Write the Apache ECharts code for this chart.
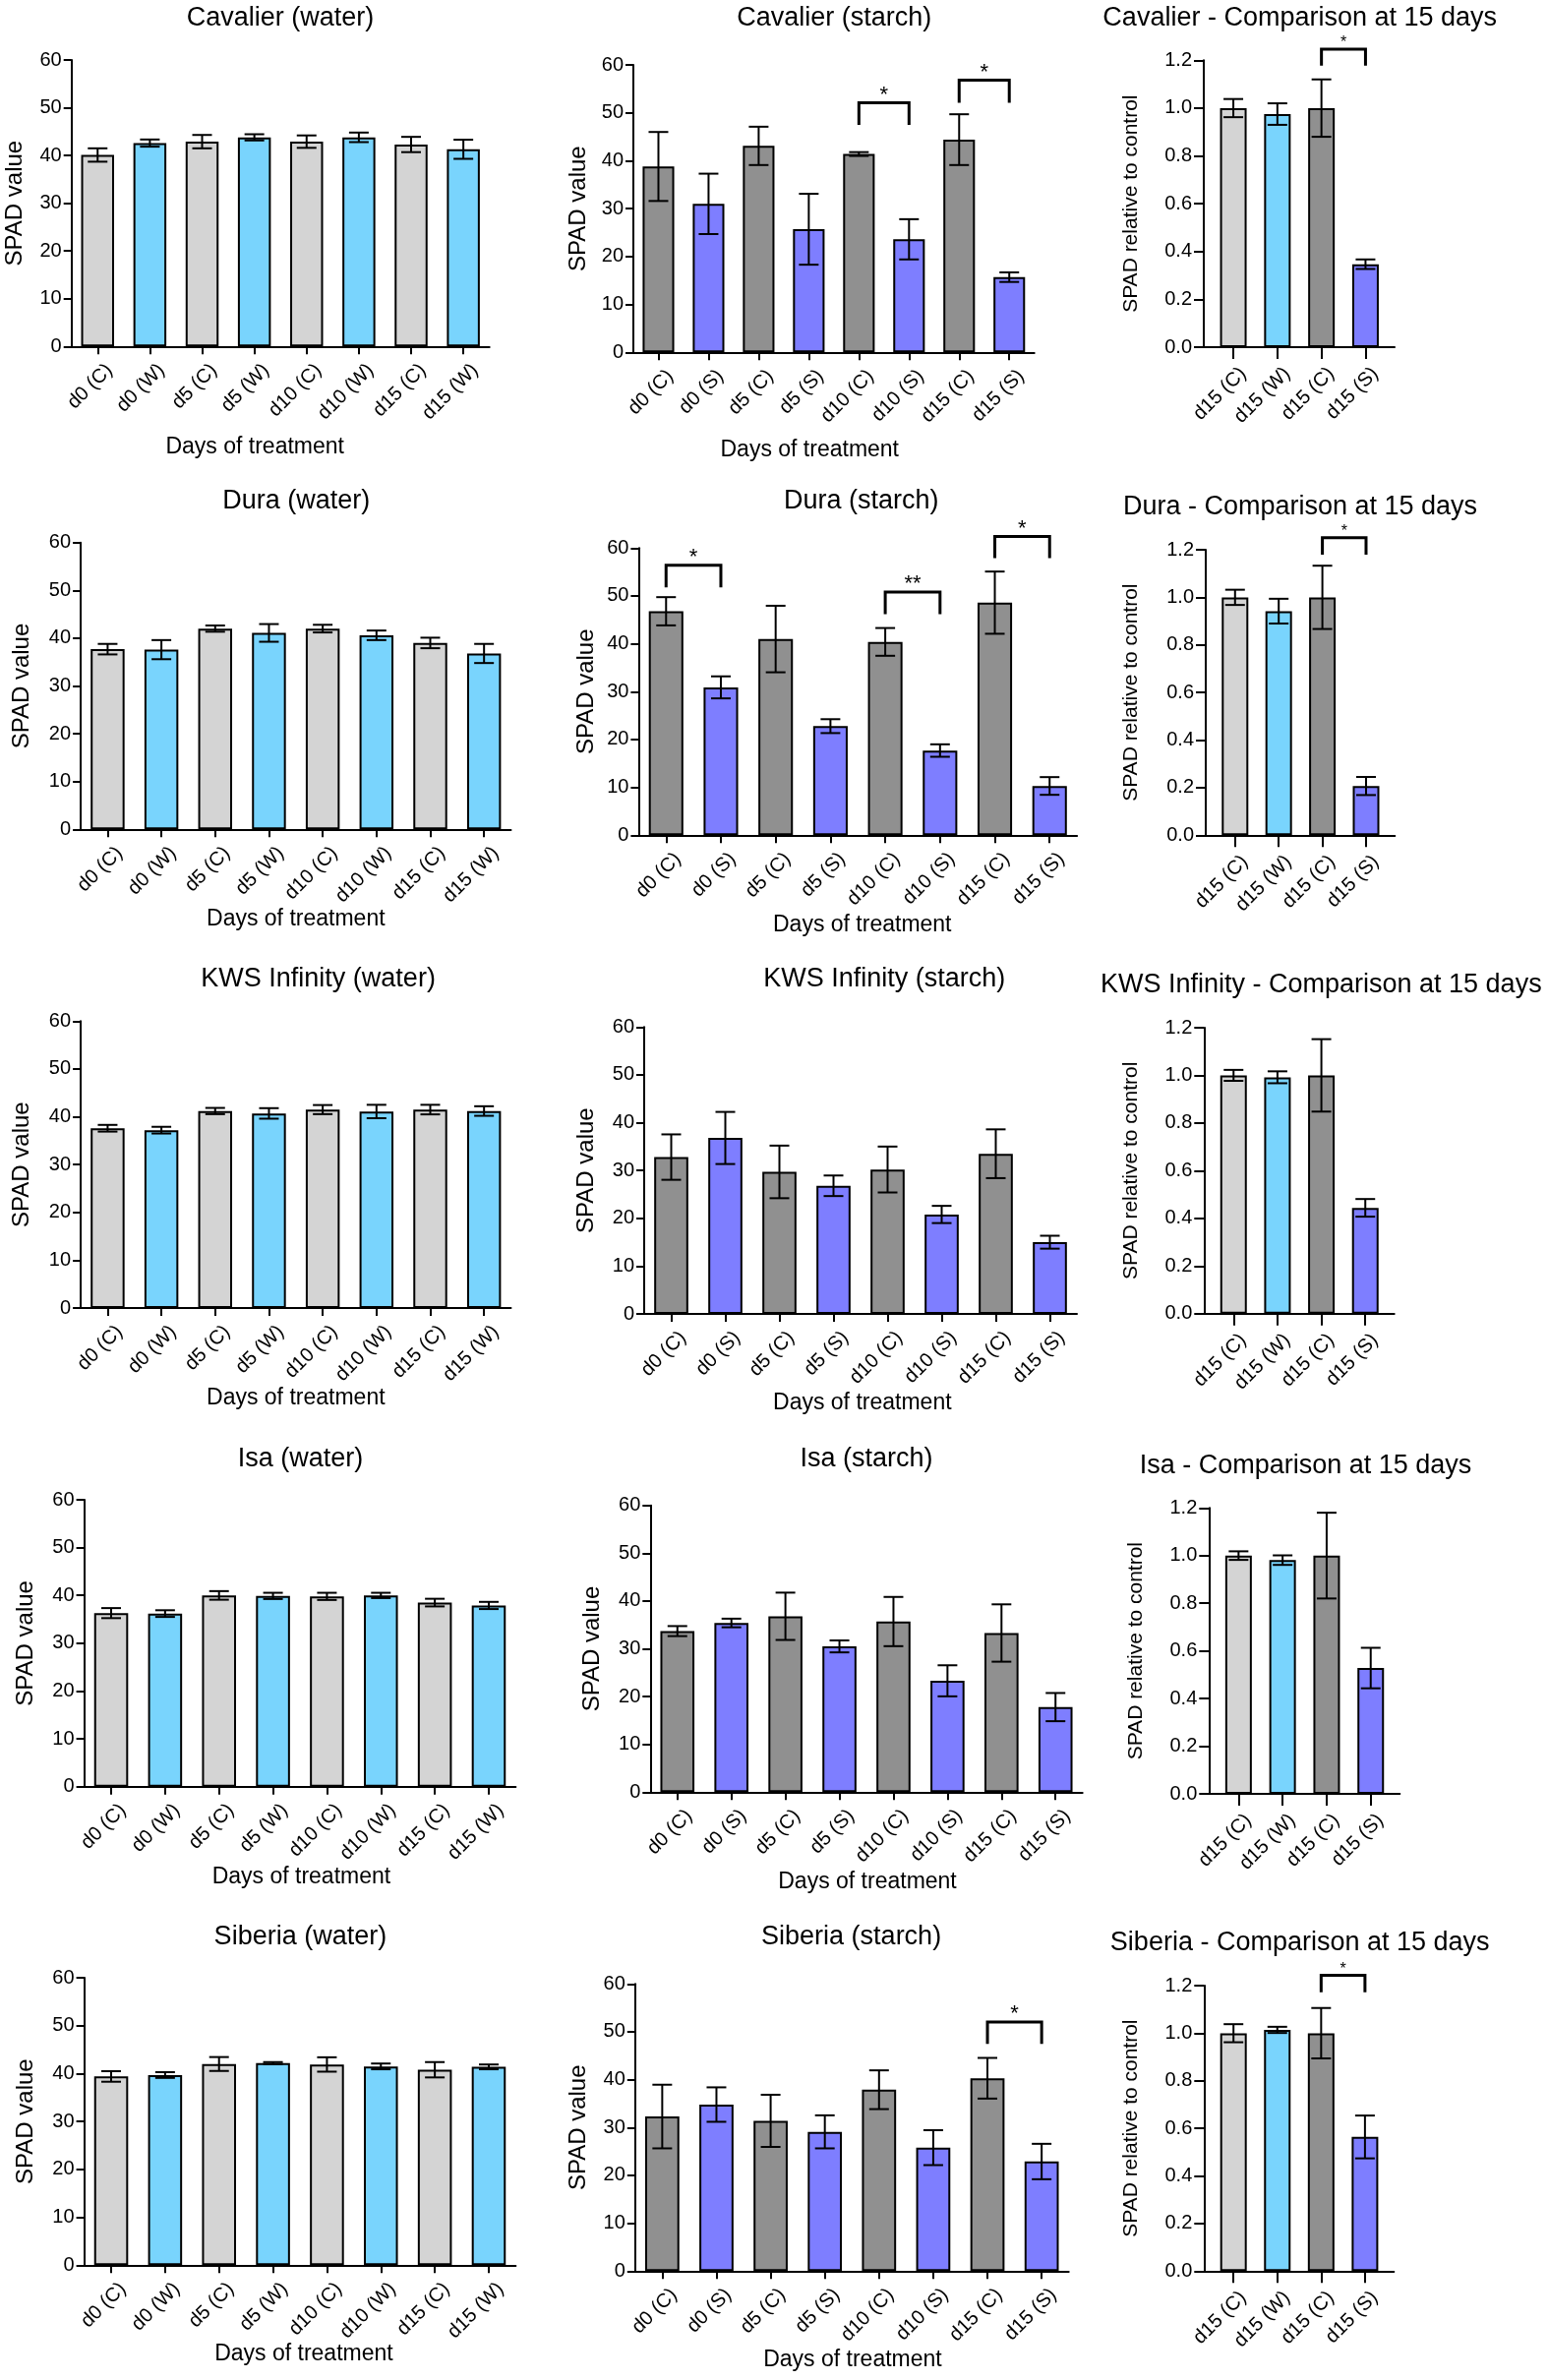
<!DOCTYPE html>
<html><head><meta charset="utf-8">
<script src="https://cdn.jsdelivr.net/npm/echarts@6/dist/echarts.min.js"></script>
<style>html,body{margin:0;padding:0;background:#fff}#chart{width:1574px;height:2420px}</style>
</head><body><div id="chart"></div>
<script>
// ---------------- DATA ----------------
const cultivars = ['Cavalier', 'Dura', 'KWS Infinity', 'Isa', 'Siberia'];
const waterCategories = ['d0 (C)', 'd0 (W)', 'd5 (C)', 'd5 (W)', 'd10 (C)', 'd10 (W)', 'd15 (C)', 'd15 (W)'];
const starchCategories = ['d0 (C)', 'd0 (S)', 'd5 (C)', 'd5 (S)', 'd10 (C)', 'd10 (S)', 'd15 (C)', 'd15 (S)'];
const comparisonCategories = ['d15 (C)', 'd15 (W)', 'd15 (C)', 'd15 (S)'];
const spadTicks = [0, 10, 20, 30, 40, 50, 60];
const relativeTicks = [0, 0.2, 0.4, 0.6, 0.8, 1.0, 1.2];

const cavalierWaterMean = [40.1, 42.6, 42.9, 43.8, 42.9, 43.8, 42.3, 41.3];
const cavalierWaterErr = [1.4, 0.75, 1.4, 0.65, 1.3, 1.0, 1.6, 2.0];
const cavalierStarchMean = [38.8, 31.0, 43.1, 25.7, 41.4, 23.6, 44.4, 15.7];
const cavalierStarchErr = [7.2, 6.3, 4.0, 7.4, 0.4, 4.2, 5.3, 1.0];
const cavalierCompMean = [1.0, 0.975, 1.0, 0.347];
const cavalierCompErr = [0.038, 0.045, 0.12, 0.02];
const cavalierStarchSig = [[4, 5, 47.5, 52.1, '*'], [6, 7, 52.1, 56.8, '*']];
const cavalierCompSig = [[2, 3, 1.178, 1.247, '*']];

const duraWaterMean = [37.7, 37.6, 42.0, 41.1, 42.0, 40.6, 39.0, 36.8];
const duraWaterErr = [1.1, 2.0, 0.65, 1.85, 0.8, 1.0, 1.1, 2.0];
const duraStarchMean = [46.8, 30.9, 41.0, 22.8, 40.4, 17.7, 48.6, 10.3];
const duraStarchErr = [2.95, 2.3, 6.95, 1.45, 2.9, 1.3, 6.5, 1.85];
const duraCompMean = [1.0, 0.942, 1.0, 0.207];
const duraCompErr = [0.032, 0.052, 0.133, 0.038];
const duraStarchSig = [[0, 1, 51.8, 56.4, '*'], [4, 5, 46.2, 50.8, '**'], [6, 7, 57.9, 62.4, '*']];
const duraCompSig = [[2, 3, 1.179, 1.251, '*']];

const kwsWaterMean = [37.6, 37.2, 41.2, 40.7, 41.5, 41.1, 41.5, 41.2];
const kwsWaterErr = [0.7, 0.7, 0.65, 1.1, 0.95, 1.4, 1.0, 1.0];
const kwsStarchMean = [32.8, 36.8, 29.7, 26.8, 30.2, 20.8, 33.5, 15.0];
const kwsStarchErr = [4.75, 5.45, 5.5, 2.15, 4.8, 1.8, 5.1, 1.35];
const kwsCompMean = [1.0, 0.992, 1.0, 0.444];
const kwsCompErr = [0.023, 0.025, 0.152, 0.037];
const kwsStarchSig = [];
const kwsCompSig = [];

const isaWaterMean = [36.3, 36.2, 40.0, 39.9, 39.8, 40.0, 38.5, 37.9];
const isaWaterErr = [1.05, 0.7, 0.9, 0.65, 0.75, 0.55, 0.8, 0.75];
const isaStarchMean = [33.7, 35.4, 36.8, 30.5, 35.7, 23.3, 33.3, 17.8];
const isaStarchErr = [1.05, 0.9, 4.95, 1.25, 5.15, 3.25, 6.0, 2.95];
const isaCompMean = [1.0, 0.981, 1.0, 0.528];
const isaCompErr = [0.018, 0.02, 0.18, 0.085];
const isaStarchSig = [];
const isaCompSig = [];

const siberiaWaterMean = [39.4, 39.7, 42.0, 42.2, 41.9, 41.5, 40.8, 41.4];
const siberiaWaterErr = [1.1, 0.6, 1.45, 0.2, 1.5, 0.6, 1.6, 0.5];
const siberiaStarchMean = [32.3, 34.8, 31.4, 29.1, 37.9, 25.8, 40.3, 22.9];
const siberiaStarchErr = [6.65, 3.6, 5.45, 3.45, 4.05, 3.65, 4.25, 3.7];
const siberiaCompMean = [1.0, 1.014, 1.0, 0.564];
const siberiaCompErr = [0.038, 0.013, 0.106, 0.09];
const siberiaStarchSig = [[6, 7, 47.5, 52.05, '*']];
const siberiaCompSig = [[2, 3, 1.172, 1.243, '*']];

// ---------------- LAYOUT (pixels) ----------------
// [left, top, right, bottom] of each plot area: water, starch, comparison
const gridBoxes = [
  [[72.7, 61, 497.7, 352.3], [644, 66, 1051.7, 358.3], [1224, 61.3, 1418, 353]],
  [[82.1, 551.7, 519.5, 843.3], [649.4, 557.3, 1095.1, 849.3], [1226, 559, 1418.3, 849.3]],
  [[82.1, 1038.3, 519.5, 1330], [655, 1044.3, 1095, 1336], [1224.3, 1045, 1417.7, 1335.7]],
  [[85.6, 1525, 524.4, 1816.7], [661.3, 1530.7, 1100.7, 1822.3], [1229.3, 1533.3, 1423.3, 1824]],
  [[85.6, 2011, 524.4, 2303.3], [645.8, 2017.3, 1086.7, 2309.3], [1224.3, 2019, 1417.3, 2309.3]]
];
const titleAnchors = [
  [[285, 17.5], [848.3, 17.5], [1321.7, 17.5]],
  [[301.2, 507.8], [875.8, 507.8], [1322, 514]],
  [[323.6, 994.5], [899.3, 994.5], [1343.3, 1000.3]],
  [[305.4, 1481.7], [881, 1481.7], [1327.5, 1489.2]],
  [[305.4, 1968.3], [865.6, 1968.3], [1321.7, 1974.2]]
];
const yNameGaps = [[45.4, 44, 63], [47.3, 40.7, 65.5], [47.3, 46.3, 63.3], [47.3, 47.3, 63.8], [47.3, 45.8, 63.8]];
const xNameGaps = [[91, 88], [80, 80], [80, 79], [80, 79.5], [79, 78.5]];
const xNameShift = [[-26, -24.6], [0, 4.5], [0, 1.8], [1.4, 1], [3.9, 0.7]];

// ---------------- STYLE ----------------
const FONT = '"Liberation Sans", Arial, Helvetica, sans-serif';
const LIGHT_GREY = '#d4d4d4', LIGHT_BLUE = '#79d4fd', DARK_GREY = '#909090', PURPLE = '#7e7eff';
const compColors = [LIGHT_GREY, LIGHT_BLUE, DARK_GREY, PURPLE];

const waterMeans = [cavalierWaterMean, duraWaterMean, kwsWaterMean, isaWaterMean, siberiaWaterMean];
const waterErrs = [cavalierWaterErr, duraWaterErr, kwsWaterErr, isaWaterErr, siberiaWaterErr];
const starchMeans = [cavalierStarchMean, duraStarchMean, kwsStarchMean, isaStarchMean, siberiaStarchMean];
const starchErrs = [cavalierStarchErr, duraStarchErr, kwsStarchErr, isaStarchErr, siberiaStarchErr];
const compMeans = [cavalierCompMean, duraCompMean, kwsCompMean, isaCompMean, siberiaCompMean];
const compErrs = [cavalierCompErr, duraCompErr, kwsCompErr, isaCompErr, siberiaCompErr];
const starchSigs = [cavalierStarchSig, duraStarchSig, kwsStarchSig, isaStarchSig, siberiaStarchSig];
const compSigs = [cavalierCompSig, duraCompSig, kwsCompSig, isaCompSig, siberiaCompSig];

const option = {
  backgroundColor: '#ffffff',
  animation: false,
  title: [], grid: [], xAxis: [], yAxis: [], series: []
};

function errorBarSeries(idx, data, capW) {
  return {
    type: 'custom', xAxisIndex: idx, yAxisIndex: idx, z: 5, silent: true, clip: false,
    encode: { x: 0, y: [1, 2] },
    data: data,
    renderItem: function (params, api) {
      const x = api.value(0);
      const lo = api.coord([x, api.value(1)]);
      const hi = api.coord([x, api.value(2)]);
      const h = capW / 2;
      const st = { stroke: '#000', lineWidth: 2 };
      return { type: 'group', children: [
        { type: 'line', shape: { x1: hi[0], y1: hi[1], x2: lo[0], y2: lo[1] }, style: st },
        { type: 'line', shape: { x1: hi[0] - h, y1: hi[1], x2: hi[0] + h, y2: hi[1] }, style: st },
        { type: 'line', shape: { x1: lo[0] - h, y1: lo[1], x2: lo[0] + h, y2: lo[1] }, style: st }
      ] };
    }
  };
}

function sigSeries(idx, sigs, fontSize, starGap) {
  return {
    type: 'custom', xAxisIndex: idx, yAxisIndex: idx, z: 6, silent: true, clip: false,
    encode: { x: [0, 1], y: [2, 3] },
    data: sigs.map(s => [s[0], s[1], s[2], s[3]]),
    renderItem: function (params, api) {
      const a = api.coord([api.value(0), api.value(2)]);
      const b = api.coord([api.value(0), api.value(3)]);
      const c = api.coord([api.value(1), api.value(3)]);
      const d = api.coord([api.value(1), api.value(2)]);
      return { type: 'group', children: [
        { type: 'polyline', shape: { points: [a, b, c, d] }, style: { stroke: '#000', lineWidth: 3, fill: null } },
        { type: 'text', x: (b[0] + c[0]) / 2, y: b[1] - starGap,
          style: { text: sigs[params.dataIndex][4], fill: '#000', fontSize: fontSize, fontFamily: FONT, align: 'center', verticalAlign: 'middle' } }
      ] };
    }
  };
}

let idx = 0;
for (let r = 0; r < 5; r++) {
  for (let c = 0; c < 3; c++) {
    const [L, T, R, B] = gridBoxes[r][c];
    option.grid.push({ left: L, top: T, width: R - L, height: B - T, containLabel: false, outerBoundsMode: 'none' });
    const text = c === 0 ? cultivars[r] + ' (water)' : c === 1 ? cultivars[r] + ' (starch)' : cultivars[r] + ' - Comparison at 15 days';
    option.title.push({
      text: text, left: titleAnchors[r][c][0], top: titleAnchors[r][c][1] - 12, textAlign: 'center', padding: 0,
      textStyle: { fontSize: 27, fontWeight: 'normal', color: '#000', fontFamily: FONT }
    });
    const ticks = c === 2 ? relativeTicks : spadTicks;
    option.yAxis.push({
      type: 'value', gridIndex: idx, min: ticks[0], max: ticks[ticks.length - 1], interval: ticks[1] - ticks[0],
      axisLine: { show: true, onZero: false, lineStyle: { color: '#000', width: 2 } },
      axisTick: { show: true, length: c === 2 ? 10 : 8, lineStyle: { color: '#000', width: 2 } },
      splitLine: { show: false },
      axisLabel: { color: '#000', fontSize: 20, fontFamily: FONT, margin: c === 2 ? 12 : 10,
        formatter: c === 2 ? (v => v.toFixed(1)) : '{value}' },
      name: c === 2 ? 'SPAD relative to control' : 'SPAD value',
      nameLocation: 'middle', nameRotate: 90, nameGap: yNameGaps[r][c], nameMoveOverlap: false,
      nameTextStyle: { color: '#000', fontSize: c === 2 ? 21 : 24, fontFamily: FONT }
    });
    if (c < 2) {
      const cats = c === 0 ? waterCategories : starchCategories;
      const s = xNameShift[r][c];
      option.xAxis.push({
        type: 'category', gridIndex: idx, data: cats, boundaryGap: true,
        axisLine: { show: true, onZero: false, lineStyle: { color: '#000', width: 2 } },
        axisTick: { show: true, alignWithLabel: true, length: 8, lineStyle: { color: '#000', width: 2 } },
        splitLine: { show: false },
        axisLabel: { interval: 0, rotate: 45, margin: 9, verticalAlign: 'top', lineHeight: 34, color: '#000', fontSize: 20, fontFamily: FONT },
        name: 'Days of treatment', nameLocation: 'middle', nameGap: xNameGaps[r][c], nameMoveOverlap: false,
        nameTextStyle: { color: '#000', fontSize: 23, fontFamily: FONT, padding: s < 0 ? [0, -2 * s, 0, 0] : [0, 0, 0, 2 * s] }
      });
      const means = c === 0 ? waterMeans[r] : starchMeans[r];
      const errs = c === 0 ? waterErrs[r] : starchErrs[r];
      const colA = c === 0 ? LIGHT_GREY : DARK_GREY, colB = c === 0 ? LIGHT_BLUE : PURPLE;
      option.series.push({
        type: 'bar', xAxisIndex: idx, yAxisIndex: idx, barWidth: '63%', silent: true, z: 2,
        data: means.map((v, i) => ({ value: v, itemStyle: { color: i % 2 ? colB : colA } })),
        itemStyle: { borderColor: '#000', borderWidth: 2 }
      });
      option.series.push(errorBarSeries(idx, means.map((v, i) => [i, v - errs[i], v + errs[i]]), 20));
      if (c === 1 && starchSigs[r].length) option.series.push(sigSeries(idx, starchSigs[r], 22, 8));
    } else {
      const pos = comparisonCategories.map((_, i) => i);
      option.xAxis.push({
        type: 'value', gridIndex: idx, min: -0.671, max: 3.66,
        axisLine: { show: true, onZero: false, lineStyle: { color: '#000', width: 2 } },
        axisTick: { show: true, length: 12, customValues: pos, lineStyle: { color: '#000', width: 2 } },
        splitLine: { show: false },
        axisLabel: { show: true, customValues: pos, showMinLabel: true, showMaxLabel: true, hideOverlap: false,
          formatter: v => comparisonCategories[Math.round(v)] || '',
          rotate: 45, margin: 14, verticalAlign: 'top', lineHeight: 28,
          color: '#000', fontSize: 20, fontFamily: FONT }
      });
      const means = compMeans[r], errs = compErrs[r];
      option.series.push({
        type: 'bar', xAxisIndex: idx, yAxisIndex: idx, barWidth: 27, silent: true, z: 2,
        data: means.map((v, i) => ({ value: [i, v], itemStyle: { color: compColors[i] } })),
        itemStyle: { borderColor: '#000', borderWidth: 2 }
      });
      option.series.push(errorBarSeries(idx, means.map((v, i) => [i, v - errs[i], v + errs[i]]), 20));
      if (compSigs[r].length) option.series.push(sigSeries(idx, compSigs[r], 16, 6));
    }
    idx++;
  }
}

const chart = echarts.init(document.getElementById('chart'), null, { renderer: 'canvas' });
chart.setOption(option);
</script>
</body></html>
